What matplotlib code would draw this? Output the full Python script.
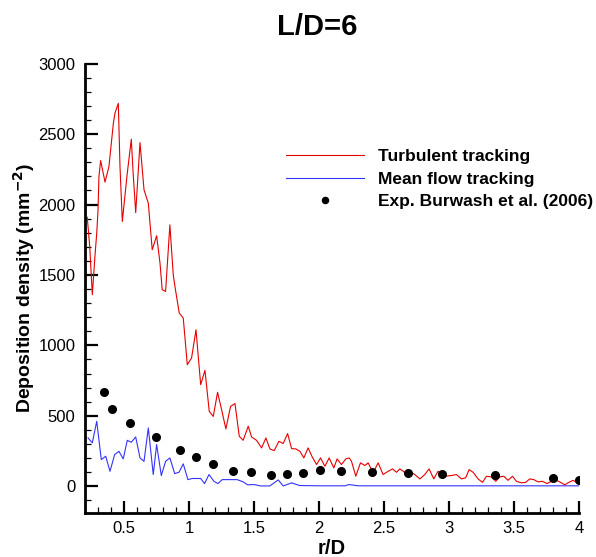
import matplotlib
matplotlib.use("Agg")
import matplotlib.pyplot as plt
from matplotlib.ticker import MultipleLocator

plt.rcParams['font.family'] = ['Liberation Sans', 'DejaVu Sans']

# Turbulent tracking (red)
turb_x = [0.215, 0.234, 0.254, 0.275, 0.288, 0.298, 0.305, 0.318, 0.352, 0.382, 0.416, 0.428,
          0.454, 0.467, 0.485, 0.498, 0.523, 0.554, 0.569, 0.588, 0.621, 0.652, 0.685, 0.715,
          0.749, 0.775, 0.792, 0.818, 0.851, 0.877, 0.890, 0.923, 0.954, 0.985, 1.018, 1.052,
          1.088, 1.121, 1.154, 1.185, 1.218, 1.249, 1.282, 1.318, 1.352, 1.385, 1.415, 1.454,
          1.480, 1.518, 1.557, 1.590, 1.621, 1.654, 1.690, 1.723, 1.757, 1.788, 1.821, 1.852,
          1.882, 1.915, 1.946, 1.980, 2.011, 2.044, 2.077, 2.113, 2.138, 2.172, 2.205, 2.231,
          2.249, 2.282, 2.318, 2.352, 2.377, 2.415, 2.454, 2.492, 2.531, 2.565, 2.595, 2.621,
          2.659, 2.698, 2.736, 2.775, 2.813, 2.846, 2.882, 2.915, 2.967, 3.018, 3.057, 3.095,
          3.128, 3.154, 3.185, 3.223, 3.257, 3.288, 3.326, 3.359, 3.390, 3.421, 3.454, 3.488,
          3.518, 3.557, 3.590, 3.621, 3.652, 3.685, 3.718, 3.754, 3.788, 3.826, 3.857, 3.890,
          3.923, 3.954, 3.985, 4.000]
turb_y = [1910, 1702, 1360, 1643, 1797, 1962, 2199, 2312, 2159, 2270, 2577, 2648,
          2719, 2270, 1880, 1998, 2222, 2464, 2211, 1943, 2440, 2104, 2010, 1679,
          1778, 1584, 1395, 1383, 1856, 1501, 1418, 1230, 1194, 863, 911, 1111,
          721, 823, 532, 496, 667, 544, 407, 567, 587, 355, 326, 426,
          350, 326, 272, 343, 265, 253, 319, 303, 374, 267, 265, 248,
          201, 272, 209, 154, 201, 142, 201, 130, 194, 154, 194, 201,
          177, 71, 166, 147, 166, 95, 166, 83, 106, 123, 99, 123,
          99, 106, 83, 52, 83, 123, 52, 106, 71, 76, 83, 52,
          60, 118, 99, 52, 28, 71, 66, 35, 66, 71, 42, 71,
          35, 24, 28, 52, 47, 31, 35, 19, 35, 42, 28, 10,
          28, 42, 24, 19]

# Mean flow tracking (blue)
mean_x = [0.221, 0.254, 0.288, 0.323, 0.357, 0.390, 0.426, 0.459, 0.492, 0.523, 0.554, 0.588,
          0.621, 0.652, 0.685, 0.723, 0.749, 0.785, 0.818, 0.851, 0.888, 0.921, 0.954, 0.990,
          1.023, 1.088, 1.118, 1.152, 1.190, 1.221, 1.254, 1.318, 1.369, 1.415, 1.450, 1.500,
          1.550, 1.620, 1.685, 1.723, 1.788, 1.850, 2.000, 2.200, 2.230, 2.300, 2.600, 3.000,
          3.500, 4.000]
mean_y = [343, 308, 461, 189, 213, 106, 225, 248, 194, 326, 312, 350,
          201, 177, 414, 83, 296, 76, 177, 201, 90, 99, 159, 47,
          55, 55, 19, 83, 35, 19, 47, 47, 47, 31, 10, 12,
          2, 2, 45, 2, 24, 5, 3, 3, 12, 3, 3, 3,
          3, 3]

# Experiment: Burwash et al. (2006)
exp_x = [0.344, 0.405, 0.544, 0.741, 0.926, 1.054, 1.185, 1.336, 1.475, 1.626, 1.754, 1.872,
         2.005, 2.165, 2.403, 2.685, 2.946, 3.352, 3.803, 4.000]
exp_y = [669, 549, 450, 350, 255, 206, 159, 111, 99, 83, 90, 95,
         118, 106, 99, 95, 90, 78, 60, 47]

x_ticks = [0.5, 1, 1.5, 2, 2.5, 3, 3.5, 4]
x_ticklabels = ['0.5', '1', '1.5', '2', '2.5', '3', '3.5', '4']
y_ticks = [0, 500, 1000, 1500, 2000, 2500, 3000]

fig = plt.figure(figsize=(5.96, 5.57), dpi=100)
ax = fig.add_axes([85.3 / 596, 1 - 513 / 557, (579 - 85.3) / 596, (513 - 63.7) / 557])

ax.plot(turb_x, turb_y, color='#e60000', lw=0.8, label='Turbulent tracking')
ax.plot(mean_x, mean_y, color='#3333ff', lw=0.8, label='Mean flow tracking')
ax.plot(exp_x, exp_y, 'o', color='black', ms=5.5, label='Exp. Burwash et al. (2006)')

ax.set_xlim(0.2, 4.0)
ax.set_ylim(-190, 3000)
ax.set_xticks(x_ticks)
ax.set_xticklabels(x_ticklabels)
ax.set_yticks(y_ticks)
ax.xaxis.set_minor_locator(MultipleLocator(0.1))
ax.yaxis.set_minor_locator(MultipleLocator(100))

for s in ['top', 'right']:
    ax.spines[s].set_visible(False)
for s in ['left', 'bottom']:
    ax.spines[s].set_linewidth(2.0)

ax.tick_params(which='major', direction='in', length=9, width=1.6, labelsize=12, pad=6)
ax.tick_params(which='minor', direction='in', length=4.5, width=0.9)
ax.tick_params(axis='y', which='major', pad=7)

ax.set_xlabel('r/D', fontsize=14.5, fontweight='bold', labelpad=2)
ax.set_ylabel('Deposition density (mm$^{\\mathbf{-2}}$)', fontsize=14, fontweight='bold')
ax.yaxis.set_label_coords(-0.098, 0.5)

fig.text(317 / 596, 1 - 27 / 557, 'L/D=6', fontsize=21, fontweight='bold', ha='center', va='center')

leg = ax.legend(loc='upper left', bbox_to_anchor=(286 / 596, 1 - 149 / 557),
                bbox_transform=fig.transFigure, frameon=False,
                prop={'weight': 'bold', 'size': 12.5}, handlelength=4.5, handletextpad=0.8,
                labelspacing=0.42, borderpad=0, borderaxespad=0, markerscale=0.8)

fig.savefig('out.png', dpi=100)
